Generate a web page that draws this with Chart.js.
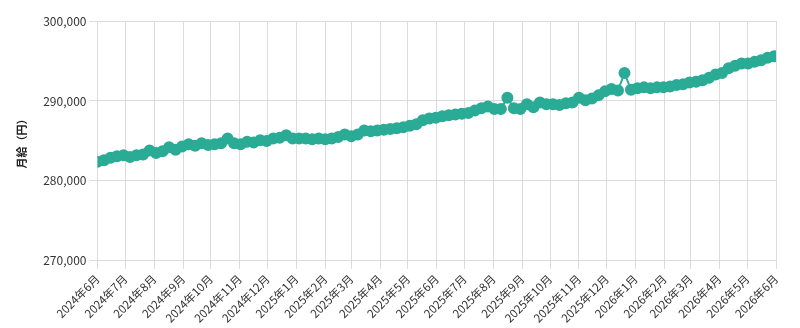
<!DOCTYPE html>
<html>
<head>
<meta charset="utf-8">
<script src="https://cdn.jsdelivr.net/npm/chart.js@4/dist/chart.umd.min.js"></script>
<style>
  html, body { margin: 0; padding: 0; background: #fff; }
  #wrap { width: 800px; height: 328px; }
</style>
</head>
<body>
<div id="wrap"><canvas id="salaryChart"></canvas></div>
<script>
// month ticks: days since 2024-06-01
const monthDays = [0, 30, 61, 92, 122, 153, 183, 214, 245, 273, 304, 334, 365, 395, 426, 457, 487, 518, 548, 579, 610, 638, 669, 699, 730];
const monthLabels = ['2024年6月', '2024年7月', '2024年8月', '2024年9月', '2024年10月', '2024年11月', '2024年12月',
  '2025年1月', '2025年2月', '2025年3月', '2025年4月', '2025年5月', '2025年6月', '2025年7月', '2025年8月', '2025年9月',
  '2025年10月', '2025年11月', '2025年12月', '2026年1月', '2026年2月', '2026年3月', '2026年4月', '2026年5月', '2026年6月'];

// weekly samples (day offset) and monthly salary values
const weekDays = [0, 7, 14, 21, 28, 35, 42, 49, 56, 63, 70, 77, 84, 91, 98, 105, 112, 119, 126, 133,
  140, 147, 154, 161, 168, 175, 182, 189, 196, 203, 210, 217, 224, 231, 238, 245, 252, 259, 266, 273,
  280, 287, 294, 301, 308, 315, 322, 329, 336, 343, 350, 357, 364, 371, 378, 385, 392, 399, 406, 413,
  420, 427, 434, 441, 448, 455, 462, 469, 476, 483, 490, 497, 504, 511, 518, 525, 532, 539, 546, 553,
  560, 567, 574, 581, 588, 595, 602, 609, 616, 623, 630, 637, 644, 651, 658, 665, 672, 679, 686, 693,
  700, 707, 714, 721, 728];
const salary = [282400, 282600, 282900, 283100, 283200, 283000, 283200, 283300, 283800, 283500,
  283700, 284200, 283900, 284300, 284600, 284400, 284700, 284500, 284600, 284700,
  285300, 284700, 284600, 284900, 284800, 285100, 285000, 285300, 285400, 285700,
  285300, 285300, 285300, 285200, 285300, 285200, 285300, 285500, 285800, 285600,
  285800, 286300, 286200, 286300, 286400, 286500, 286600, 286700, 286900, 287100,
  287600, 287800, 287900, 288100, 288200, 288300, 288400, 288500, 288800, 289100,
  289300, 289000, 289000, 290400, 289100, 289000, 289600, 289200, 289800, 289600,
  289600, 289500, 289700, 289800, 290400, 290100, 290300, 290700, 291200, 291500,
  291300, 293500, 291400, 291600, 291700, 291600, 291700, 291700, 291800, 292000,
  292100, 292300, 292400, 292600, 292900, 293300, 293500, 294100, 294400, 294700,
  294700, 294900, 295100, 295400, 295600];

const teal = '#2aab95';
const font = "'Noto Sans CJK JP', 'Noto Sans', sans-serif";

document.addEventListener('DOMContentLoaded', () => {
    const ctx = document.getElementById('salaryChart').getContext('2d');
    new Chart(ctx, {
        type: 'line',
        data: {
            datasets: [{
                label: '月給',
                data: weekDays.map((d, i) => ({ x: d, y: salary[i] })),
                borderColor: teal,
                backgroundColor: teal,
                borderWidth: 2,
                pointRadius: 5,
                pointHoverRadius: 6,
                tension: 0
            }]
        },
        options: {
            responsive: true,
            maintainAspectRatio: false,
            animation: false,
            layout: { padding: { top: 21, right: 24, left: 15, bottom: 0 } },
            plugins: { legend: { display: false }, tooltip: { enabled: false } },
            scales: {
                x: {
                    type: 'linear',
                    min: 0,
                    max: 730,
                    afterBuildTicks: axis => { axis.ticks = monthDays.map(v => ({ value: v })); },
                    ticks: {
                        autoSkip: false,
                        minRotation: 45,
                        maxRotation: 45,
                        color: '#333',
                        font: { family: font, size: 11.5 },
                        callback: v => monthLabels[monthDays.indexOf(v)]
                    },
                    grid: { color: '#dcdcdc' },
                    border: { color: '#dcdcdc' }
                },
                y: {
                    min: 270000,
                    max: 300000,
                    ticks: {
                        stepSize: 10000,
                        color: '#333',
                        font: { family: font, size: 12 },
                        callback: v => v.toLocaleString('en-US')
                    },
                    title: {
                        display: true,
                        text: '月給（円）',
                        color: '#222',
                        padding: { top: 0, bottom: 12 },
                        font: { family: font, size: 11, weight: 'bold' }
                    },
                    grid: { color: '#dcdcdc' },
                    border: { color: '#dcdcdc' }
                }
            }
        }
    });
});
</script>
</body>
</html>
